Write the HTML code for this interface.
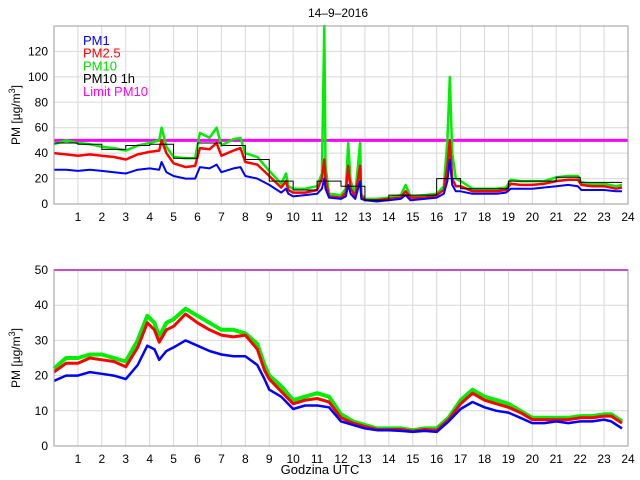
<!DOCTYPE html>
<html><head><meta charset="utf-8">
<style>
html,body{margin:0;padding:0;background:#fff;}
svg{display:block;font-family:"Liberation Sans",sans-serif;}
</style></head>
<body>
<svg id="chart" width="640" height="480" viewBox="0 0 640 480" xmlns="http://www.w3.org/2000/svg">
<text x="338" y="17" font-size="12" text-anchor="middle">14–9–2016</text>
<g id="top"></g>
<g id="bot"></g>
<text x="320" y="474" font-size="13" text-anchor="middle">Godzina UTC</text>
</svg>
<script>
// ---- data: top panel ----
const topTimes=[0,0.5,1,1.5,2,2.5,3,3.5,4,4.4,4.5,4.7,5,5.5,5.9,6.1,6.5,6.8,7,7.5,7.8,8,8.5,9,9.5,9.7,9.8,10,10.5,11,11.2,11.3,11.35,11.5,12,12.2,12.3,12.4,12.6,12.8,12.85,13,13.5,14,14.5,14.7,14.9,15.5,16,16.3,16.45,16.55,16.65,16.8,17,17.5,18,18.5,18.9,19.1,19.5,20,20.5,21,21.5,21.9,22.05,22.5,23,23.5,23.75];
const topPM10=[47,50,48,47,45,44,42,46,48,50,60,45,37,36,36,56,52,60,46,51,52,40,37,26,16,24,14,12,12,14,24,140,30,8,7,12,48,18,8,48,8,4,4,5,7,15,6,7,8,14,50,100,40,20,18,12,12,12,13,19,18,18,18,21,22,22,17,16,16,14,15];
const topPM25=[40,39,38,39,38,37,35,39,41,42,50,40,32,29,30,44,43,48,38,42,44,33,31,22,13,18,11,9,9,11,20,35,20,6,5,9,30,12,6,30,6,3,3,4,5,10,5,5,7,11,30,50,20,14,14,10,10,10,11,16,15,15,16,18,19,19,15,14,14,12,13];
const topPM1=[27,27,26,27,26,25,24,27,28,27,33,25,22,20,20,29,28,31,25,28,29,22,20,15,9,12,8,6,7,8,12,20,12,5,4,6,15,8,4,18,4,3,2,3,4,7,3,4,5,8,18,35,15,10,10,8,8,8,9,12,12,12,13,14,15,14,11,11,11,10,10];
const hourlyPM10=[48,47,43,46,47,36,48,46,35,18,11,18,14,3,7,7,20,12,12,18,18,21,17,17];
const limitPM10=50;
// ---- data: bottom panel ----
const botTimes=[0,0.5,1,1.5,2,2.5,3,3.5,3.9,4.2,4.4,4.7,5,5.5,6,6.5,7,7.5,8,8.5,8.8,9,9.5,10,10.5,11,11.5,12,12.5,13,13.5,14,14.5,15,15.5,16,16.5,17,17.5,18,18.5,19,19.5,20,20.5,21,21.5,22,22.5,23,23.3,23.75];
const botPM10=[22,25,25,26,26,25,24,30,37,35,31,35,36,39,37,35,33,33,32,29,23,20,17,13,14,15,14,9,7,6,5,5,5,4.5,5,5,8,13,16,14,13,12,10,8,8,8,8,8.5,8.5,9,9,7];
const botPM25=[21,23.5,23.5,25,24.5,24,22.5,28,35,33,29.5,33,34,37.5,35,33,31.5,31,31.5,27.5,21.5,19,15.5,12,13,13.5,12.5,8,6.5,5.5,4.7,4.7,4.7,4.2,4.7,4.5,7.5,12,15,13,12,11,9.5,7.5,7.5,7.5,7.5,8,8,8.5,8.5,6.5];
const botPM1=[18.5,20,20,21,20.5,20,19,23,28.5,27.5,24.5,27,28,30,28.5,27,26,25.5,25.5,23,19,16,14,10.5,11.5,11.5,11,7,6,5,4.5,4.5,4.3,4,4.3,4,7,10.5,12.5,11,10,9.5,8,6.5,6.5,7,6.5,7,7,7.5,7,5];
const xTicks=[1,2,3,4,5,6,7,8,9,10,11,12,13,14,15,16,17,18,19,20,21,22,23,24];
const topYTicks=[0,20,40,60,80,100,120];
const botYTicks=[0,10,20,30,40,50];

const NS="http://www.w3.org/2000/svg";
const X0=54, X1=628;
const xs=h=>X0+h*(X1-X0)/24;
function mk(parent,tag,attrs){const e=document.createElementNS(NS,tag);for(const k in attrs)e.setAttribute(k,attrs[k]);parent.appendChild(e);return e;}

function panel(g,top,bottom,ymax,yTicks,series,withLegend,hourly){
  const ys=v=>bottom-(v/ymax)*(bottom-top);
  // grid
  xTicks.forEach(h=>{
    const l=mk(g,'line',{x1:xs(h),x2:xs(h),y1:top,y2:bottom,stroke:'#d8d8d8','stroke-width':1});
    
    
    const t=mk(g,'text',{x:xs(h),y:bottom+17,'font-size':12,'text-anchor':'middle'});
    t.textContent=h;
    
    
  });
  yTicks.forEach(v=>{
    const l=mk(g,'line',{x1:X0,x2:X1,y1:ys(v),y2:ys(v),stroke:'#d8d8d8','stroke-width':1});
    
    
    const t=mk(g,'text',{x:X0-6,y:ys(v)+4,'font-size':12,'text-anchor':'end'});
    t.textContent=v;
    
    
  });
  // limit
  const lim=mk(g,'line',{x1:X0,x2:X1,y1:ys(limitPM10),y2:ys(limitPM10),stroke:'#ff00ff','stroke-width':top===ys(limitPM10)?2:3});
  
  
  series.forEach(s=>{
    let d='';
    s.times.forEach((t,i)=>{d+=(i?'L':'M')+xs(t).toFixed(1)+','+Math.max(top,ys(s.vals[i])).toFixed(1);});
    const p=mk(g,'path',{d:d,fill:'none',stroke:s.color,'stroke-width':s.w,'stroke-linejoin':'round'});
    
    
  });
  if(hourly){
    let d='';
    hourly.forEach((v,i)=>{const e=Math.min(i+1,23.75);d+=(i?'L':'M')+xs(i)+','+ys(v)+'L'+xs(e)+','+ys(v);});
    const p=mk(g,'path',{d:d,fill:'none',stroke:'#000','stroke-width':1});
    
    
  }
  const box=mk(g,'rect',{x:X0,y:top,width:X1-X0,height:bottom-top,fill:'none',stroke:'#999','stroke-width':1});
  
  
  const yl=mk(g,'text',{x:0,y:0,'font-size':12,'text-anchor':'middle',transform:`translate(20,${(top+bottom)/2}) rotate(-90)`});
  yl.innerHTML='PM [µg/m<tspan dy="-5" font-size="9">3</tspan><tspan dy="5">]</tspan>';
  
  
  if(withLegend){
    const items=[['PM1','#0000ff'],['PM2.5','#ff0000'],['PM10','#00dd00'],['PM10 1h','#000'],['Limit PM10','#ff00ff']];
    items.forEach((it,i)=>{
      const t=mk(g,'text',{x:83,y:45+i*12.7,'font-size':13,fill:it[1]});
      t.textContent=it[0];
      
      
    });
  }
}
panel(document.getElementById('top'),26,204,140,topYTicks,[
  {times:topTimes,vals:topPM10,color:'#00ee00',w:2.5,name:'pm10-line'},
  {times:topTimes,vals:topPM25,color:'#ff0000',w:2.5,name:'pm25-line'},
  {times:topTimes,vals:topPM1,color:'#0000ff',w:2,name:'pm1-line'}],true,hourlyPM10);
panel(document.getElementById('bot'),270,446,50,botYTicks,[
  {times:botTimes,vals:botPM10,color:'#00ee00',w:4,name:'pm10-line'},
  {times:botTimes,vals:botPM25,color:'#ff0000',w:3,name:'pm25-line'},
  {times:botTimes,vals:botPM1,color:'#0000ff',w:2.5,name:'pm1-line'}],false,null);
</script>
</body></html>
